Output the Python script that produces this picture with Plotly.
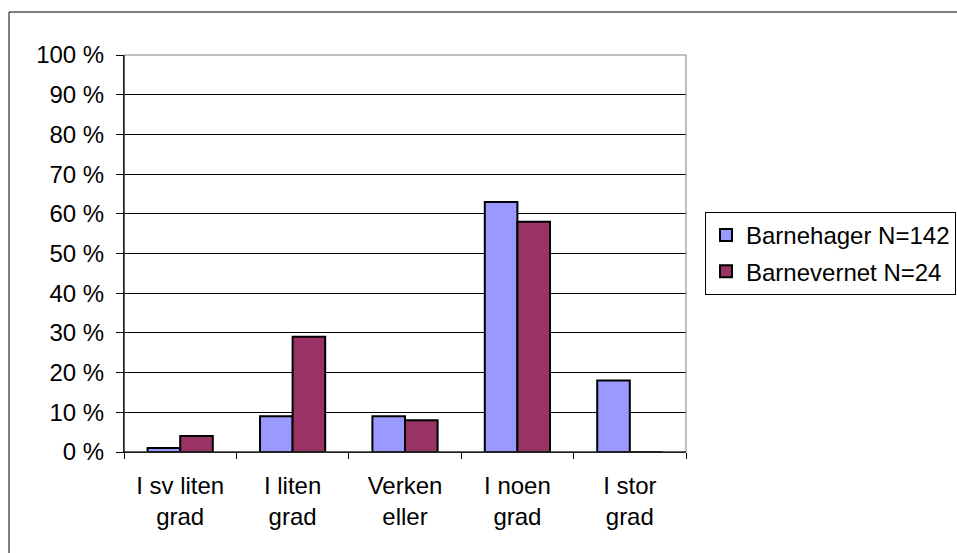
import plotly.graph_objects as go

categories = ["I sv liten<br>grad", "I liten<br>grad", "Verken<br>eller", "I noen<br>grad", "I stor<br>grad"]
barnehager = [1, 9, 9, 63, 18]
barnevernet = [4, 29, 8, 58, 0]
series_names = ["Barnehager N=142", "Barnevernet N=24"]
y_ticks = list(range(0, 101, 10))
y_tick_labels = [f"{v} %" for v in y_ticks]

W, H = 957, 553
L, R, T, B = 124, 686, 55, 452

fig = go.Figure()
fig.add_trace(go.Bar(x=categories, y=barnehager, name=series_names[0], legendgroup="a",
                     marker=dict(color="#9999FF", line=dict(color="black", width=2))))
fig.add_trace(go.Bar(x=categories, y=barnevernet, name=series_names[1], legendgroup="b",
                     marker=dict(color="#993366", line=dict(color="black", width=2))))

font = dict(family="Liberation Sans, Arial, sans-serif", size=24, color="black")

def px_x(p):
    return (p - L) / (R - L)

def px_y(p):
    return (B - p) / (B - T)

fig.update_layout(
    width=W, height=H,
    margin=dict(l=L, r=W - R, t=T, b=H - B, pad=0, autoexpand=False),
    paper_bgcolor="white", plot_bgcolor="white",
    barmode="group", bargap=0.42, bargroupgap=0,
    font=font,
    showlegend=True,
    legend=dict(x=px_x(705), y=px_y(212), xanchor="left", yanchor="top",
                bordercolor="black", borderwidth=1, bgcolor="white",
                font=font, traceorder="grouped", tracegroupgap=2, itemwidth=30),
    xaxis=dict(type="category", tickson="boundaries", ticks="outside", ticklen=6,
               tickcolor="black", showline=True, linecolor="black", linewidth=1,
               showgrid=False, tickfont=font, range=[-0.5, 4.5], ticklabelstandoff=12),
    yaxis=dict(range=[0, 100], tickvals=y_ticks, ticktext=y_tick_labels,
               ticks="outside", ticklen=7, tickcolor="black", showline=True,
               linecolor="black", linewidth=1, showgrid=True, gridcolor="black",
               gridwidth=1, zeroline=False, tickfont=font, ticklabelstandoff=7),
    shapes=[
        dict(type="rect", xref="paper", yref="paper", x0=0, x1=1, y0=0, y1=1,
             line=dict(color="#808080", width=1), layer="above"),
        dict(type="line", xref="paper", yref="paper", x0=0, x1=0, y0=0, y1=1,
             line=dict(color="black", width=1), layer="above"),
        dict(type="line", xref="paper", yref="paper", x0=0, x1=1, y0=0, y1=0,
             line=dict(color="black", width=1), layer="above"),
        dict(type="rect", xref="paper", yref="paper",
             x0=px_x(9), x1=px_x(975), y0=px_y(570), y1=px_y(12),
             line=dict(color="black", width=1), layer="below"),
    ],
)

fig.write_html("out.html", config={"displayModeBar": False},
               post_script="document.body.style.margin='0px';document.body.style.overflow='hidden';")
